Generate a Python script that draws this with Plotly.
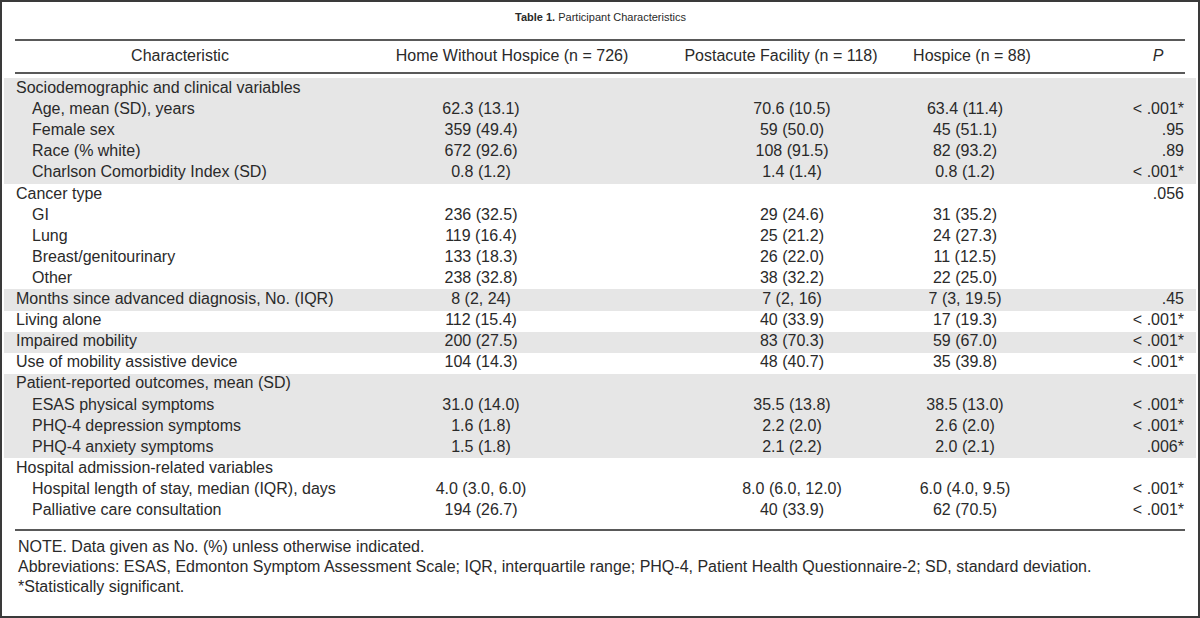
import plotly.graph_objects as go

# ---------------- data ----------------
characteristics = [
    "Sociodemographic and clinical variables",
    "Age, mean (SD), years",
    "Female sex",
    "Race (% white)",
    "Charlson Comorbidity Index (SD)",
    "Cancer type",
    "GI",
    "Lung",
    "Breast/genitourinary",
    "Other",
    "Months since advanced diagnosis, No. (IQR)",
    "Living alone",
    "Impaired mobility",
    "Use of mobility assistive device",
    "Patient-reported outcomes, mean (SD)",
    "ESAS physical symptoms",
    "PHQ-4 depression symptoms",
    "PHQ-4 anxiety symptoms",
    "Hospital admission-related variables",
    "Hospital length of stay, median (IQR), days",
    "Palliative care consultation",
]
indent_level = [0, 1, 1, 1, 1, 0, 1, 1, 1, 1, 0, 0, 0, 0, 0, 1, 1, 1, 0, 1, 1]
shaded = [1, 1, 1, 1, 1, 0, 0, 0, 0, 0, 1, 0, 1, 0, 1, 1, 1, 1, 0, 0, 0]

home_without_hospice = [
    "", "62.3 (13.1)", "359 (49.4)", "672 (92.6)", "0.8 (1.2)",
    "", "236 (32.5)", "119 (16.4)", "133 (18.3)", "238 (32.8)",
    "8 (2, 24)", "112 (15.4)", "200 (27.5)", "104 (14.3)",
    "", "31.0 (14.0)", "1.6 (1.8)", "1.5 (1.8)",
    "", "4.0 (3.0, 6.0)", "194 (26.7)",
]
postacute_facility = [
    "", "70.6 (10.5)", "59 (50.0)", "108 (91.5)", "1.4 (1.4)",
    "", "29 (24.6)", "25 (21.2)", "26 (22.0)", "38 (32.2)",
    "7 (2, 16)", "40 (33.9)", "83 (70.3)", "48 (40.7)",
    "", "35.5 (13.8)", "2.2 (2.0)", "2.1 (2.2)",
    "", "8.0 (6.0, 12.0)", "40 (33.9)",
]
hospice = [
    "", "63.4 (11.4)", "45 (51.1)", "82 (93.2)", "0.8 (1.2)",
    "", "31 (35.2)", "24 (27.3)", "11 (12.5)", "22 (25.0)",
    "7 (3, 19.5)", "17 (19.3)", "59 (67.0)", "35 (39.8)",
    "", "38.5 (13.0)", "2.6 (2.0)", "2.0 (2.1)",
    "", "6.0 (4.0, 9.5)", "62 (70.5)",
]
p_values = [
    "", "< .001*", ".95", ".89", "< .001*",
    ".056", "", "", "", "",
    ".45", "< .001*", "< .001*", "< .001*",
    "", "< .001*", "< .001*", ".006*",
    "", "< .001*", "< .001*",
]
column_headers = [
    "Characteristic",
    "Home Without Hospice (n = 726)",
    "Postacute Facility (n = 118)",
    "Hospice (n = 88)",
    "<i>P</i>",
]
title_text = "<b>Table 1.</b> Participant Characteristics"
notes = [
    "NOTE. Data given as No. (%) unless otherwise indicated.",
    "Abbreviations: ESAS, Edmonton Symptom Assessment Scale; IQR, interquartile range; PHQ-4, Patient Health Questionnaire-2; SD, standard deviation.",
    "*Statistically significant.",
]

# ---------------- layout constants ----------------
W, H = 1200, 618
FONT = "Liberation Sans, Arial, sans-serif"
TXT = "#2a2a2a"
FS = 16
ROW0_PX = 89.0      # pixel centre of first body row
ROW_PX = 21.1       # pixel height of a row
RULE_X0, RULE_X1 = 15, 1185
COL_LABEL_X = 16
INDENT_PX = 16
COL_CENTERS = [180, 481, 792, 965]
HEADER_CENTERS = [180, 512, 781, 972, 1158]
P_RIGHT_X = 1184

n = len(characteristics)
rows = list(range(n))


def px_to_row(py):
    return (py - ROW0_PX) / ROW_PX


fig = go.Figure()

# row shading (horizontal bars spanning the table width)
fig.add_trace(go.Bar(
    y=rows,
    x=[W - 8] * n,
    base=[4] * n,
    orientation="h",
    width=1.0,
    marker=dict(color=["#e6e6e6" if s else "rgba(0,0,0,0)" for s in shaded], line=dict(width=0)),
    hoverinfo="skip",
    showlegend=False,
))

# characteristic labels
fig.add_trace(go.Scatter(
    x=[COL_LABEL_X + INDENT_PX * lv for lv in indent_level],
    y=rows,
    mode="text",
    text=characteristics,
    textposition="middle right",
    textfont=dict(family=FONT, size=FS, color=TXT),
    hoverinfo="skip",
    showlegend=False,
))

# value columns
for col, vals in zip(COL_CENTERS[1:], [home_without_hospice, postacute_facility, hospice]):
    fig.add_trace(go.Scatter(
        x=[col] * n,
        y=rows,
        mode="text",
        text=vals,
        textposition="middle center",
        textfont=dict(family=FONT, size=FS, color=TXT),
        hoverinfo="skip",
        showlegend=False,
    ))

# p values
fig.add_trace(go.Scatter(
    x=[P_RIGHT_X] * n,
    y=rows,
    mode="text",
    text=p_values,
    textposition="middle left",
    textfont=dict(family=FONT, size=FS, color=TXT),
    hoverinfo="skip",
    showlegend=False,
))

# header row
header_y = px_to_row(57)
fig.add_trace(go.Scatter(
    x=HEADER_CENTERS,
    y=[header_y] * len(HEADER_CENTERS),
    mode="text",
    text=column_headers,
    textposition="middle center",
    textfont=dict(family=FONT, size=FS, color=TXT),
    hoverinfo="skip",
    showlegend=False,
))

# rules
for py in [40, 73, 530]:
    fig.add_shape(type="line", xref="x", yref="y",
                  x0=RULE_X0, x1=RULE_X1, y0=px_to_row(py), y1=px_to_row(py),
                  line=dict(color="#222222", width=1.6))

# outer border
fig.add_shape(type="rect", xref="paper", yref="paper", x0=0, x1=1, y0=0, y1=1,
              line=dict(color="#3a3a3a", width=4), fillcolor="rgba(0,0,0,0)")

# title
fig.add_annotation(x=600, y=px_to_row(17), xref="x", yref="y", text=title_text,
                   showarrow=False, xanchor="center", yanchor="middle",
                   font=dict(family=FONT, size=11, color=TXT))

# notes
for note, py in zip(notes, [546, 566, 586]):
    fig.add_annotation(x=COL_LABEL_X, y=px_to_row(py), xref="x", yref="y", text=note,
                       showarrow=False, xanchor="left", yanchor="middle",
                       font=dict(family=FONT, size=FS, color=TXT))

fig.update_layout(
    width=W, height=H,
    margin=dict(l=0, r=0, t=0, b=0),
    paper_bgcolor="white", plot_bgcolor="white",
    bargap=0,
    xaxis=dict(range=[0, W], visible=False, fixedrange=True),
    yaxis=dict(range=[px_to_row(H), px_to_row(0)], visible=False, fixedrange=True),
    showlegend=False,
)

fig.write_html("out.html", config={"displayModeBar": False, "staticPlot": True},
               post_script="document.body.style.margin='0px';")
